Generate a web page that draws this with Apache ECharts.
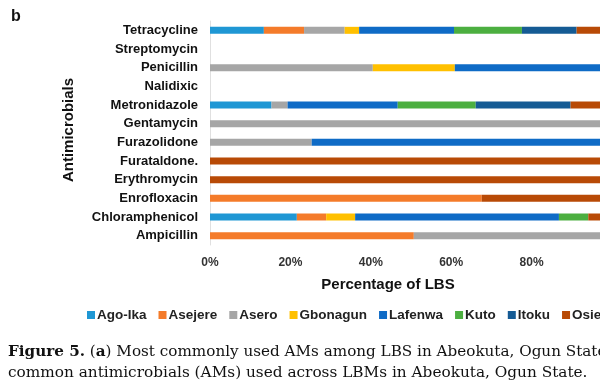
<!DOCTYPE html>
<html>
<head>
<meta charset="utf-8">
<script src="https://cdn.jsdelivr.net/npm/echarts@6/dist/echarts.min.js"></script>
<style>html,body{margin:0;padding:0;background:#fff}#c{width:600px;height:387px}</style>
</head>
<body>
<div id="c"></div>
<script>
const categories = ["Tetracycline","Streptomycin","Penicillin","Nalidixic","Metronidazole","Gentamycin","Furazolidone","Furataldone.","Erythromycin","Enrofloxacin","Chloramphenicol","Ampicillin"];
const seriesNames = ["Ago-Ika","Asejere","Asero","Gbonagun","Lafenwa","Kuto","Itoku","Osiele"];
const agoIka   = [13.4, 0, 0,    0, 15.3, 0,   0,    0,   0,   0,    21.6, 0];
const asejere  = [10.0, 0, 0,    0, 0,    0,   0,    0,   0,   67.6, 7.3,  50.7];
const asero    = [10.1, 0, 40.5, 0, 4.0,  100, 25.3, 0,   0,   0,    0,    49.3];
const gbonagun = [3.6,  0, 20.4, 0, 0,    0,   0,    0,   0,   0,    7.2,  0];
const lafenwa  = [23.6, 0, 39.1, 0, 27.4, 0,   74.7, 0,   0,   0,    50.7, 0];
const kuto     = [16.9, 0, 0,    0, 19.4, 0,   0,    0,   0,   0,    7.3,  0];
const itoku    = [13.6, 0, 0,    0, 23.6, 0,   0,    0,   0,   0,    0,    0];
const osiele   = [8.8,  0, 0,    0, 10.3, 0,   0,    100, 100, 32.4, 5.9,  0];
const xTicks = ["0%","20%","40%","60%","80%","100%"];

const values = [agoIka, asejere, asero, gbonagun, lafenwa, kuto, itoku, osiele];
const colors = ["#1F97D4","#F47B2A","#A6A6A6","#FFC000","#0F6BC6","#4CAF40","#155B94","#B84A06"];

const chart = echarts.init(document.getElementById('c'), null, {renderer:'canvas'});
const font = "'Liberation Sans', Arial, sans-serif";
const serif = "'DejaVu Serif', serif";
chart.setOption({
  animation: false,
  color: colors,
  grid: {left: 210, top: 21, width: 402, height: 224, containLabel: false, outerBoundsMode: 'none'},
  xAxis: {
    type: 'value', min: 0, max: 100, interval: 20,
    axisLine: {show: false}, axisTick: {show: false}, splitLine: {show: false},
    axisLabel: {formatter: v => xTicks[v/20], showMaxLabel: false, color: '#333', fontWeight: 'bold', fontSize: 12, fontFamily: font, margin: 12}
  },
  yAxis: {
    type: 'category', data: categories, inverse: true,
    axisLine: {show: true, lineStyle: {color: '#e0e0e0', width: 1}},
    axisTick: {show: false},
    axisLabel: {color: '#111', fontWeight: 'bold', fontSize: 13, fontFamily: font, margin: 12}
  },
  legend: {
    left: 82, top: 303, width: 900, itemWidth: 8, itemHeight: 8, itemGap: 12,
    icon: 'rect',
    textStyle: {color: '#222', fontWeight: 'bold', fontSize: 13.5, fontFamily: font, padding: [0,0,0,-3]},
    data: seriesNames
  },
  series: seriesNames.map((n, i) => ({
    name: n, type: 'bar', stack: 'all', barWidth: 7,
    data: values[i], itemStyle: {color: colors[i]}
  })),
  graphic: [
    {type: 'text', left: 11, top: 9, style: {text: 'b', fontSize: 16, fontWeight: 'bold', fontFamily: font, fill: '#111'}},
    {type: 'text', x: 69, y: 130, rotation: Math.PI/2, style: {text: 'Antimicrobials', fontSize: 15, fontWeight: 'bold', fontFamily: font, fill: '#111', align: 'center', verticalAlign: 'middle'}},
    {type: 'text', x: 388, y: 285, style: {text: 'Percentage of LBS', fontSize: 15, fontWeight: 'bold', fontFamily: font, fill: '#111', align: 'center', verticalAlign: 'middle'}},
    {type: 'text', x: 8, y: 352, style: {
      text: '{b|Figure 5.} ({b|a}) Most commonly used AMs among LBS in Abeokuta, Ogun State',
      fontSize: 15.2, fontFamily: serif, fill: '#111', verticalAlign: 'middle',
      rich: {b: {fontWeight: 'bold', fontSize: 15.2, fontFamily: serif, fill: '#111'}}
    }},
    {type: 'text', x: 8, y: 373, style: {
      text: 'common antimicrobials (AMs) used across LBMs in Abeokuta, Ogun State.',
      fontSize: 15.3, fontFamily: serif, fill: '#111', verticalAlign: 'middle'
    }}
  ]
});
</script>
</body>
</html>
